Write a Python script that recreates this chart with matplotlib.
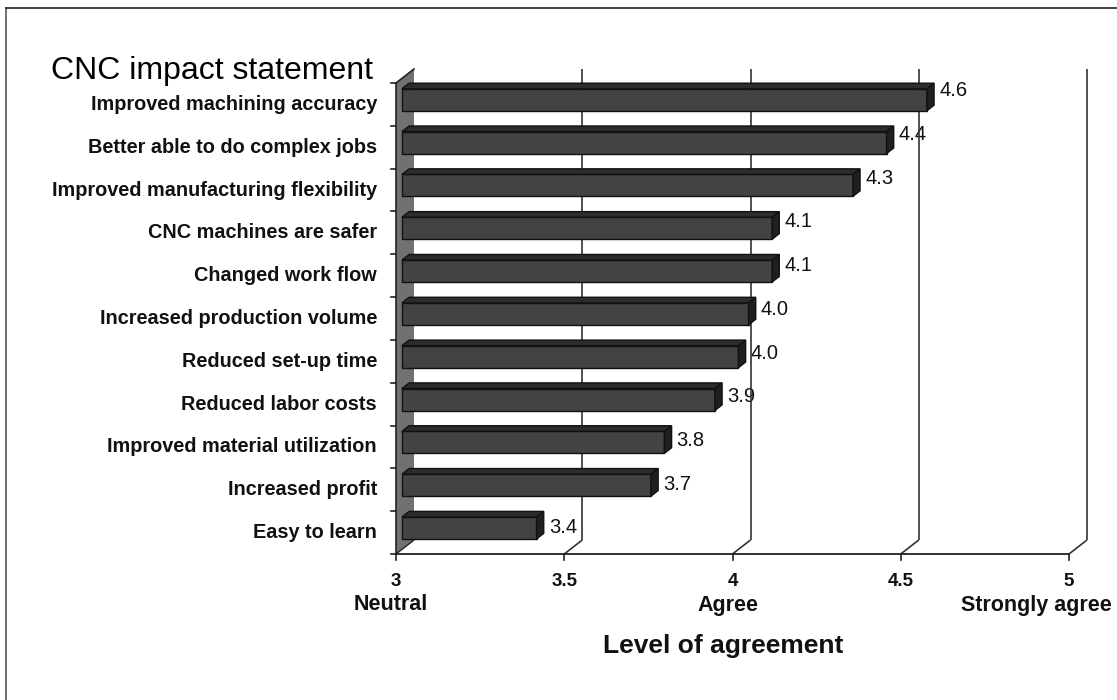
import matplotlib
matplotlib.use("Agg")
import matplotlib.pyplot as plt
from matplotlib.patches import Polygon
from matplotlib.lines import Line2D

# ---- data ----
categories = [
    "Improved machining accuracy",
    "Better able to do complex jobs",
    "Improved manufacturing flexibility",
    "CNC machines are safer",
    "Changed work flow",
    "Increased production volume",
    "Reduced set-up time",
    "Reduced labor costs",
    "Improved material utilization",
    "Increased profit",
    "Easy to learn",
]
values = [4.56, 4.44, 4.34, 4.10, 4.10, 4.03, 4.00, 3.93, 3.78, 3.74, 3.40]
x_ticks = [3, 3.5, 4, 4.5, 5]
x_tick_labels = ["3", "3.5", "4", "4.5", "5"]
scale_names = {3: "Neutral", 4: "Agree", 5: "Strongly agree"}
y_title = "CNC impact statement"
x_title = "Level of agreement"

plt.rcParams['font.family'] = ['Liberation Sans', 'DejaVu Sans']

W, H = 1117, 700
fig = plt.figure(figsize=(W / 100, H / 100), dpi=100)
fig.patch.set_facecolor("white")

# figure border (top & left visible)
fig.add_artist(Line2D([6 / W, 6 / W], [0, 1 - 8 / H], transform=fig.transFigure, color="#555555", lw=1.2))
fig.add_artist(Line2D([6 / W, 1], [1 - 8 / H, 1 - 8 / H], transform=fig.transFigure, color="#222222", lw=1.2))

x0_px, x1_px = 396, 1069
y_top_px, y_bot_px = 83, 554
ax = fig.add_axes([x0_px / W, (H - y_bot_px) / H, (x1_px - x0_px) / W, (y_bot_px - y_top_px) / H])
n = len(categories)
ax.set_xlim(3, 5)
ax.set_ylim(-0.5, n - 0.5)
ax.axis("off")

px_x = 2.0 / (x1_px - x0_px)        # data units per pixel (x)
px_y = n / (y_bot_px - y_top_px)     # data units per pixel (y)
DX = 18 * px_x   # full depth offset
DY = 14 * px_y
ylo, yhi = -0.5, n - 0.5
xmin, xmax = x_ticks[0], x_ticks[-1]

line_kw = dict(color="#333333", lw=1.2, clip_on=False, solid_capstyle="butt")

# back wall gridlines and floor diagonals
for xt in x_ticks[1:]:
    ax.plot([xt + DX, xt + DX], [ylo + DY, yhi + DY], zorder=2, **line_kw)
    ax.plot([xt, xt + DX], [ylo, ylo + DY], zorder=2, **line_kw)

# left side wall
wall = Polygon([(xmin, ylo), (xmin + DX, ylo + DY), (xmin + DX, yhi + DY), (xmin, yhi)],
               closed=True, facecolor="#717171", edgecolor="none", zorder=1.5, clip_on=False)
ax.add_patch(wall)
ax.plot([xmin, xmin], [ylo, yhi], zorder=2.5, color="#222222", lw=1.2, clip_on=False)
ax.plot([xmin, xmin + DX], [yhi, yhi + DY], zorder=2.5, color="#222222", lw=1.2, clip_on=False)
ax.plot([xmin, xmin + DX], [ylo, ylo + DY], zorder=2.5, color="#222222", lw=1.0, clip_on=False)

# floor front edge
ax.plot([xmin, xmax], [ylo, ylo], zorder=2.5, color="#222222", lw=1.3, clip_on=False)
# x tick marks
for xt in x_ticks:
    ax.plot([xt, xt], [ylo, ylo - 6 * px_y], zorder=2.5, color="#222222", lw=1.2, clip_on=False)
# y tick marks (category boundaries)
for k in range(n + 1):
    yb = ylo + k
    ax.plot([xmin - 5 * px_x, xmin], [yb, yb], zorder=2.5, color="#222222", lw=1.2, clip_on=False)

# bars
f0, f1 = 0.33, 0.73
h = 22 * px_y
ypos = [n - 1 - i for i in range(n)]
front_c = "#434343"
top_c = "#2c2c2c"
side_c = "#1f1f1f"
ax.barh([y + f0 * DY for y in ypos], [v - xmin for v in values], left=xmin + f0 * DX,
        height=h, color=front_c, edgecolor="#111111", linewidth=1.0, zorder=4, clip_on=False)
ddx = (f1 - f0) * DX
ddy = (f1 - f0) * DY
for i, (y, v) in enumerate(zip(ypos, values)):
    xl = xmin + f0 * DX
    xr = v + f0 * DX
    yb = y - h / 2 + f0 * DY
    yt = y + h / 2 + f0 * DY
    top = Polygon([(xl, yt), (xr, yt), (xr + ddx, yt + ddy), (xl + ddx, yt + ddy)],
                  closed=True, facecolor=top_c, edgecolor="#111111", lw=1.0, zorder=4, clip_on=False)
    side = Polygon([(xr, yb), (xr, yt), (xr + ddx, yt + ddy), (xr + ddx, yb + ddy)],
                   closed=True, facecolor=side_c, edgecolor="#111111", lw=1.0, zorder=4, clip_on=False)
    ax.add_patch(top)
    ax.add_patch(side)
    lift = 9.0 * (1 - i / (n - 1)) * px_y
    ax.text(xr + ddx + 5 * px_x, (yb + yt) / 2 + lift, f"{v:.1f}", ha="left", va="center",
            fontsize=14.5, color="#111111", zorder=1)

# category labels
for y, c in zip(ypos, categories):
    ax.text(xmin - 19 * px_x, y, c, ha="right", va="center", fontsize=14.3,
            fontweight="bold", color="#111111")

# title for categories
fig.text(373 / W, 1 - 71 / H, y_title, ha="right", va="center", fontsize=23, color="black")

# x tick labels and scale names
for xt, lab in zip(x_ticks, x_tick_labels):
    ax.text(xt, ylo - 28 * px_y, lab, ha="center", va="center", fontsize=13.5,
            fontweight="bold", color="#111111")
for xt, name in scale_names.items():
    if xt == x_ticks[-1]:
        ax.text(xt + 43 * px_x, ylo - 51 * px_y, name, ha="right", va="center", fontsize=15.5,
                fontweight="bold", color="#111111")
    else:
        ax.text(xt - 5 * px_x, ylo - 51 * px_y, name, ha="center", va="center", fontsize=15.5,
                fontweight="bold", color="#111111")

fig.text(723 / W, 1 - 646 / H, x_title, ha="center", va="center", fontsize=19,
         fontweight="bold", color="#111111")

fig.savefig("out.png", dpi=100, facecolor="white")
